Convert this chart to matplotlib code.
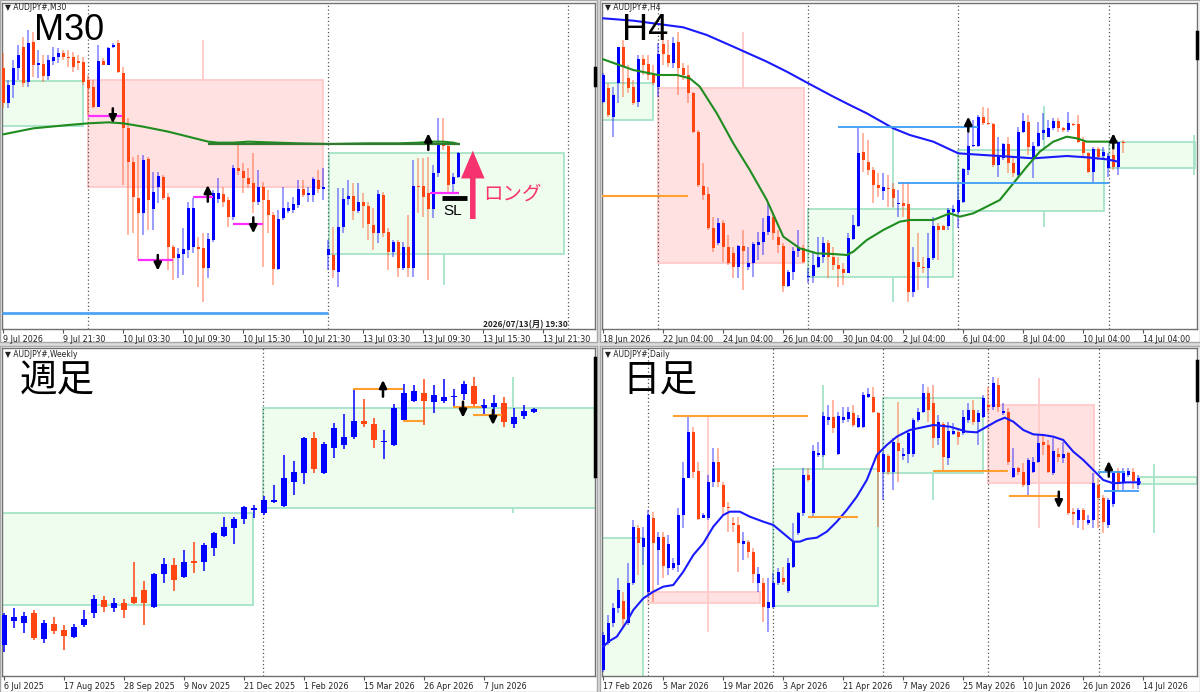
import numpy as np
import matplotlib
matplotlib.use("Agg")
import matplotlib.pyplot as plt
from matplotlib.patches import Rectangle
from matplotlib.colors import to_rgba

W, H = 1200, 692
UP = "#0000ff"
DOWN = "#ff4512"
GREEN_FACE, GREEN_EDGE = "#effdef", "#a6e3c8"
PINK_FACE, PINK_EDGE = "#ffe1e1", "#ffc9c9"
ORANGE_LINE = "#ffa030"
LBLUE = "#3d9df5"
CJK = ["Noto Sans CJK JP", "DejaVu Sans"]

# ---------------- M30 (price in chart units) ----------------
m30_open = [795, 690, 745, 795, 860, 755, 875, 805, 807, 772, 818, 830, 842, 830, 828, 817, 815, 760, 738, 680,
            818, 805, 858, 870, 782, 615, 515, 405, 360, 522, 372, 440, 470, 408, 260, 225, 238, 250, 260, 260,
            255, 195, 280, 402, 418, 400, 350, 495, 488, 465, 452, 395, 440, 400, 355, 192, 345, 368, 370, 385,
            432, 415, 415, 460, 432, 235, 235, 185, 320, 402, 412, 368, 395, 382, 325, 300, 415, 303, 243, 273,
            195, 258, 195, 442, 442, 420, 372, 480, 572, 562, 447, 470]
m30_high = [840, 760, 820, 865, 890, 910, 905, 850, 835, 835, 860, 855, 850, 850, 845, 835, 830, 775, 760, 865,
            825, 860, 870, 880, 800, 645, 530, 535, 535, 530, 485, 485, 475, 420, 265, 255, 315, 395, 405, 290,
            300, 300, 430, 465, 440, 410, 505, 565, 510, 495, 540, 490, 455, 430, 365, 370, 440, 395, 410, 460,
            460, 440, 470, 490, 495, 280, 320, 435, 435, 460, 450, 450, 420, 395, 375, 430, 425, 315, 280, 280,
            275, 355, 520, 525, 525, 530, 505, 645, 645, 570, 480, 545]
m30_low = [675, 675, 705, 760, 740, 740, 770, 765, 755, 760, 805, 812, 820, 800, 785, 790, 745, 655, 675, 680,
           805, 805, 855, 780, 445, 295, 300, 220, 295, 310, 310, 390, 400, 190, 160, 165, 175, 225, 240, 140,
           95, 165, 275, 390, 380, 320, 340, 475, 420, 435, 360, 385, 200, 300, 145, 190, 340, 360, 360, 375,
           410, 395, 395, 420, 400, 190, 165, 140, 300, 385, 340, 360, 315, 280, 250, 270, 290, 190, 230, 170,
           190, 170, 170, 360, 350, 160, 345, 470, 550, 425, 420, 465]
m30_close = [690, 745, 795, 835, 750, 870, 805, 812, 772, 820, 830, 840, 828, 826, 800, 812, 755, 735, 680, 818,
             805, 855, 865, 785, 615, 515, 410, 360, 520, 400, 425, 472, 405, 260, 225, 238, 252, 375, 375, 252,
             195, 282, 420, 420, 395, 350, 497, 488, 465, 448, 395, 440, 400, 355, 192, 342, 375, 375, 388, 432,
             415, 420, 463, 432, 440, 252, 190, 320, 402, 412, 368, 395, 382, 328, 300, 418, 300, 243, 275, 195,
             258, 195, 442, 438, 410, 372, 480, 572, 562, 445, 470, 540]
m30_ma_x = [0, 6, 13, 17, 21, 24, 28, 33, 37, 41, 43, 46, 49, 53, 59, 65, 73, 79, 83, 86, 88, 90, 91]
m30_ma_y = [597, 615, 625, 630, 633, 630, 620, 605, 590, 575, 572, 572, 575, 573, 570, 568, 570, 570, 572, 575, 575,
            572, 568]
m30_labels = ["9 Jul 2026", "9 Jul 21:30", "10 Jul 03:30", "10 Jul 09:30", "10 Jul 15:30", "10 Jul 21:30",
              "13 Jul 03:30", "13 Jul 09:30", "13 Jul 15:30", "13 Jul 21:30"]
m30_zones = [("g", -0.3, 15.9, 622, 757), ("p", 16.9, 63.9, 440, 760), ("g", 65.1, 112.1, 237, 542)]
m30_zone_wicks = [("p", 39.9, 760, 880), ("g", 88.1, 145, 237)]
m30_magenta = [(17, 23.7, 652), (27, 33.9, 220), (38, 42, 408), (46, 52, 328), (85.3, 91.2, 420)]
m30_arrows = [(21.9, 675, 630), (30.9, 235, 188), (40.9, 395, 445), (50, 348, 300), (85, 550, 600)]
m30_seps = [17, 65, 113]

# ---------------- H4 ----------------
h4_open = [695, 735, 650, 750, 858, 765, 738, 695, 822, 807, 775, 738, 867, 835, 810, 875, 795, 775, 720, 605,
           442, 417, 317, 272, 332, 260, 240, 200, 262, 200, 210, 265, 275, 305, 350, 290, 262, 142, 185, 248,
           255, 168, 172, 200, 228, 270, 230, 205, 192, 182, 282, 322, 545, 515, 490, 445, 428, 435, 433, 388,
           392, 388, 125, 215, 200, 195, 225, 322, 323, 322, 365, 365, 395, 490, 562, 562, 648, 632, 628, 505,
           525, 567, 512, 475, 605, 635, 522, 562, 600, 590, 615, 638, 615, 610, 628, 628, 575, 540, 485, 552,
           532, 495, 535, 500, 575]
h4_high = [780, 750, 740, 860, 880, 805, 760, 835, 835, 835, 805, 870, 900, 880, 890, 905, 810, 805, 725, 610,
           510, 440, 350, 345, 340, 295, 260, 265, 310, 260, 275, 305, 345, 390, 365, 310, 270, 190, 260, 310,
           265, 195, 240, 290, 290, 280, 260, 230, 210, 300, 355, 620, 600, 580, 500, 480, 480, 475, 450, 430,
           450, 455, 260, 300, 230, 300, 350, 330, 325, 375, 385, 455, 495, 600, 640, 655, 680, 675, 630, 590,
           570, 590, 530, 620, 660, 655, 575, 635, 660, 640, 645, 645, 620, 665, 632, 655, 590, 545, 560, 560,
           560, 540, 560, 575, 580]
h4_low = [690, 650, 590, 690, 710, 720, 685, 680, 775, 760, 745, 710, 805, 800, 795, 715, 760, 690, 600, 440,
          400, 310, 245, 265, 215, 205, 165, 165, 130, 190, 170, 220, 235, 295, 280, 240, 125, 140, 160, 230,
          210, 150, 150, 195, 210, 165, 190, 140, 145, 180, 280, 320, 485, 475, 390, 410, 400, 380, 380, 350,
          350, 95, 110, 130, 180, 135, 220, 220, 310, 310, 360, 315, 390, 475, 560, 560, 625, 625, 500, 470,
          520, 480, 470, 470, 600, 535, 465, 560, 580, 590, 610, 605, 605, 605, 622, 570, 525, 480, 455, 520,
          520, 470, 490, 475, 540]
h4_close = [775, 655, 715, 860, 800, 735, 690, 822, 805, 775, 750, 837, 837, 810, 870, 795, 775, 720, 605, 445,
            415, 315, 255, 332, 260, 210, 200, 262, 248, 210, 267, 275, 305, 352, 300, 265, 142, 185, 248, 258,
            215, 172, 205, 230, 270, 230, 205, 192, 182, 285, 325, 542, 520, 490, 445, 435, 440, 432, 405, 392,
            383, 125, 215, 200, 195, 225, 322, 310, 310, 370, 372, 400, 492, 562, 565, 648, 630, 627, 505, 530,
            567, 512, 480, 605, 638, 560, 562, 602, 610, 615, 638, 615, 610, 630, 625, 575, 540, 485, 552, 530,
            545, 532, 500, 575, 570]
h4_ma_slow_x = [0, 6, 16, 20.7, 26, 32.7, 36.7, 41, 46, 49.3, 52.7, 58, 61.3, 66, 71, 76, 81.3, 86, 92.7, 96.7,
                100.7, 103]
h4_ma_slow_y = [945, 938, 918, 895, 860, 815, 785, 750, 710, 685, 660, 615, 595, 575, 540, 535, 530, 525, 532, 528,
                522, 515]
h4_ma_fast_x = [0, 6, 11, 14.7, 17.3, 19.3, 22.7, 26, 29.3, 32.7, 36, 39.3, 42.7, 46, 48.7, 50, 52.7, 56, 59.3,
                61.3, 66, 69.3, 71.3, 74, 76, 79.3, 82, 84.7, 87.3, 90, 92.7, 94.7, 96.7, 99.3, 102.7]
h4_ma_fast_y = [822, 790, 775, 775, 765, 740, 660, 570, 490, 400, 290, 255, 240, 238, 235, 245, 280, 310, 335,
                340, 340, 360, 350, 360, 375, 400, 450, 500, 545, 575, 590, 585, 575, 575, 575]
h4_labels = ["18 Jun 2026", "22 Jun 04:00", "24 Jun 04:00", "26 Jun 04:00", "30 Jun 04:00", "2 Jul 04:00",
             "6 Jul 04:00", "8 Jul 04:00", "10 Jul 04:00", "14 Jul 04:00"]
h4_zones = [("g", -0.3, 10, 640, 750), ("p", 10.9, 40.1, 212, 737), ("g", 41, 70, 168, 372),
            ("g", 71, 100.1, 367, 550), ("g", 101.2, 118.3, 495, 573)]
h4_zone_wicks = [("p", 28, 737, 905), ("g", 58, 372, 618), ("g", 58, 95, 168), ("g", 88.1, 550, 682),
                 ("g", 88.1, 320, 367), ("g", 118.1, 475, 595)]
h4_orange = [(-0.3, 17, 412)]
h4_lblue = [(47, 75, 618), (59, 101.2, 452)]
h4_arrows = [(73, 605, 650), (102, 555, 600)]
h4_seps = [10.9, 41, 71, 101.2]

# ---------------- Weekly ----------------
wk_open = [100, 172, 165, 195, 118, 162, 145, 123, 160, 195, 235, 212, 225, 245, 265, 215, 312, 340, 303, 350,
           350, 392, 427, 452, 478, 506, 495, 530, 518, 590, 615, 722, 617, 690, 700, 725, 772, 762, 708, 700,
           775, 832, 857, 830, 832, 843, 852, 877, 810, 815, 827, 763, 787, 800]
wk_high = [195, 210, 200, 205, 175, 185, 160, 162, 205, 250, 248, 240, 238, 350, 292, 315, 360, 360, 385, 410,
           405, 440, 485, 485, 518, 520, 548, 580, 670, 652, 725, 740, 710, 767, 792, 867, 837, 780, 745, 822,
           882, 880, 897, 880, 897, 867, 892, 905, 837, 850, 845, 812, 820, 810]
wk_low = [80, 150, 135, 115, 107, 132, 85, 120, 155, 182, 200, 200, 182, 222, 160, 210, 285, 262, 300, 315,
          322, 368, 425, 402, 463, 480, 490, 525, 515, 550, 582, 615, 612, 660, 688, 717, 755, 690, 658, 698,
          772, 828, 760, 795, 825, 812, 835, 815, 787, 788, 755, 752, 778, 795]
wk_close = [190, 185, 188, 120, 165, 142, 128, 155, 178, 237, 215, 225, 205, 225, 225, 312, 342, 295, 350, 347,
            400, 437, 455, 478, 513, 510, 535, 535, 602, 620, 720, 628, 702, 750, 725, 772, 762, 715, 710, 810,
            855, 863, 832, 850, 845, 845, 882, 822, 820, 827, 768, 785, 803, 807]
wk_labels = ["6 Jul 2025", "17 Aug 2025", "28 Sep 2025", "9 Nov 2025", "21 Dec 2025", "1 Feb 2026",
             "15 Mar 2026", "26 Apr 2026", "7 Jun 2026"]
wk_zones = [("g", -0.3, 24.9, 220, 495), ("g", 25.9, 59.5, 510, 810)]
wk_zone_wicks = [("g", 50.9, 810, 905), ("g", 50.9, 495, 510)]
wk_orange = [(34.9, 39.9, 868), (39.9, 41.9, 772), (44.9, 47.8, 815), (46.9, 49.8, 790)]
wk_arrows = [(37.9, 845, 895), (45.9, 830, 782), (48.9, 805, 760)]
wk_seps = [25.9]

# ---------------- Daily ----------------
d1_open = [25, 105, 165, 212, 232, 165, 285, 450, 395, 258, 480, 385, 425, 330, 332, 340, 490, 602, 740, 622,
           482, 482, 590, 650, 580, 515, 465, 460, 402, 410, 380, 285, 285, 210, 215, 285, 302, 262, 335, 435,
           495, 610, 495, 670, 670, 775, 785, 672, 775, 778, 797, 755, 755, 845, 845, 795, 618, 667, 618, 705,
           668, 672, 672, 775, 800, 855, 825, 722, 762, 660, 732, 738, 735, 775, 805, 768, 785, 820, 815, 880,
           795, 800, 605, 630, 618, 580, 620, 648, 708, 700, 615, 672, 662, 675, 500, 475, 505, 465, 475, 580,
           542, 460, 522, 622, 590, 610, 620, 580]
d1_high = [140, 190, 225, 300, 260, 345, 475, 460, 455, 505, 500, 440, 440, 430, 360, 510, 650, 787, 755, 650,
           495, 610, 690, 690, 590, 530, 485, 485, 440, 415, 390, 335, 300, 300, 315, 330, 335, 360, 465, 500,
           630, 630, 700, 710, 800, 820, 835, 800, 815, 815, 820, 790, 860, 870, 875, 800, 680, 672, 720, 830,
           690, 745, 780, 810, 882, 875, 880, 790, 770, 770, 765, 750, 805, 825, 835, 805, 850, 875, 905, 900,
           825, 810, 690, 635, 645, 660, 665, 732, 730, 715, 720, 690, 710, 680, 510, 510, 510, 490, 615, 600,
           550, 540, 620, 630, 630, 630, 630, 610]
d1_low = [20, 100, 155, 195, 150, 160, 280, 310, 340, 252, 230, 280, 300, 310, 325, 320, 450, 600, 600, 475,
          480, 475, 575, 575, 490, 440, 440, 320, 355, 360, 285, 260, 170, 140, 210, 280, 280, 255, 330, 430,
          488, 590, 485, 665, 665, 760, 735, 670, 765, 770, 755, 750, 750, 840, 795, 455, 535, 610, 565, 590,
          655, 645, 665, 768, 795, 770, 690, 700, 620, 640, 730, 700, 730, 765, 760, 700, 780, 800, 805, 800,
          790, 640, 600, 610, 575, 545, 615, 645, 670, 615, 610, 650, 645, 490, 460, 450, 445, 460, 450, 450,
          435, 450, 515, 565, 565, 605, 568, 568]
d1_close = [130, 165, 212, 265, 178, 285, 455, 405, 420, 490, 405, 425, 338, 402, 345, 490, 602, 740, 620, 478,
            490, 590, 650, 590, 515, 510, 460, 405, 412, 380, 312, 312, 215, 228, 285, 320, 290, 345, 410, 495,
            610, 595, 682, 675, 788, 785, 750, 788, 785, 800, 760, 782, 850, 852, 800, 620, 672, 618, 710, 682,
            672, 735, 775, 800, 855, 805, 720, 768, 665, 742, 742, 725, 785, 805, 768, 795, 840, 815, 885, 815,
            802, 648, 630, 620, 580, 655, 648, 705, 700, 620, 682, 665, 672, 495, 492, 505, 475, 475, 585, 542,
            470, 535, 615, 582, 615, 622, 592, 602]
d1_ma_x = [0, 1, 2.7, 4.7, 6, 8, 10, 12, 14, 16, 18, 20, 22, 24, 25.3, 27.3, 29.3, 32, 34, 36, 38, 39.3, 40.7,
           42.7, 44.7, 46.7, 48.7, 50.7, 52.7, 54.7, 56.7, 58.7, 61.3, 66, 69.3, 72.7, 74.7, 76.7, 78.7, 80.3, 82,
           84, 86, 88, 90, 92, 94, 96, 98, 100, 102, 104.7, 107.3]
d1_ma_y = [95, 110, 125, 170, 205, 240, 260, 275, 280, 320, 370, 405, 455, 490, 500, 500, 485, 470, 460, 435, 410,
           410, 418, 422, 440, 470, 505, 545, 595, 670, 700, 725, 745, 760, 755, 740, 738, 755, 772, 782, 770, 745,
           732, 730, 725, 715, 680, 655, 625, 595, 585, 588, 588]
d1_labels = ["17 Feb 2026", "5 Mar 2026", "19 Mar 2026", "3 Apr 2026", "21 Apr 2026", "7 May 2026",
             "25 May 2026", "10 Jun 2026", "26 Jun 2026", "14 Jul 2026"]
d1_zones = [("g", -0.3, 8, -20, 420), ("p", 9, 31.3, 225, 260), ("g", 34, 55, 217, 627),
            ("g", 56, 76, 617, 840), ("p", 77, 98.2, 585, 820), ("g", 107.2, 118.8, 582, 605)]
d1_zone_wicks = [("p", 20.9, 140, 785), ("g", 43.9, 627, 880), ("g", 66, 535, 617), ("p", 87.1, 450, 902),
                 ("g", 110.2, 435, 642)]
d1_orange = [(14, 41, 787), (41, 51, 485), (66, 81, 622), (81.2, 91, 548)]
d1_lblue = [(99, 104.3, 620), (100.1, 107.2, 562)]
d1_arrows = [(91.1, 560, 510), (101.1, 605, 652)]
d1_seps = [9, 34, 56, 77, 99.2]


fig = plt.figure(figsize=(W / 100, H / 100), dpi=100)
fig.patch.set_facecolor("#dcdcdc")


def px_rect(x0, y0, x1, y1):
    return [x0 / W, 1 - y1 / H, (x1 - x0) / W, (y1 - y0) / H]


# white panel backgrounds (behind the axes)
for x0, y0, x1, y1 in [(0, 0, 597, 342), (600, 0, 1200, 342), (0, 346, 597, 692), (600, 346, 1200, 692)]:
    fig.patches.append(Rectangle((x0 / W, 1 - y1 / H), (x1 - x0) / W, (y1 - y0) / H, transform=fig.transFigure,
                                 facecolor="white", edgecolor="#a8a8a8", lw=1, zorder=-5))


def make_axes(box, xlim, ylim, tick_pos, labels):
    ax = fig.add_axes(px_rect(*box))
    ax.set_zorder(1)
    ax.set_xlim(*xlim)
    ax.set_ylim(*ylim)
    ax.set_yticks([])
    ax.set_xticks(tick_pos)
    ax.set_xticklabels(labels, ha="left", fontsize=5.8, color="#222222")
    ax.tick_params(axis="x", length=3, pad=1.5, color="#555555", width=0.8)
    for s in ax.spines.values():
        s.set_color("#707070")
        s.set_linewidth(1)
    return ax


def candles(ax, o, h, l, c, width, wick_alpha):
    o, h, l, c = map(np.asarray, (o, h, l, c))
    x = np.arange(len(o))
    up = c >= o
    body = [UP if u else DOWN for u in up]
    wick = [to_rgba(UP if u else DOWN, wick_alpha) for u in up]
    ax.vlines(x, l, h, colors=wick, lw=1.1, zorder=3)
    ax.bar(x, np.maximum(np.abs(c - o), 4), width, np.minimum(o, c), color=body, lw=0, zorder=4)


def zones(ax, zone_list, wick_list):
    for kind, x0, x1, lo, hi in zone_list:
        fc, ec = (GREEN_FACE, GREEN_EDGE) if kind == "g" else (PINK_FACE, PINK_EDGE)
        ax.add_patch(Rectangle((x0, lo), x1 - x0, hi - lo, facecolor=fc, edgecolor=ec, lw=1.3, zorder=1))
    for kind, x, lo, hi in wick_list:
        ax.vlines(x, lo, hi, colors=GREEN_EDGE if kind == "g" else PINK_EDGE, lw=1.3, zorder=1)


def hlines(ax, items, color, lw):
    for x0, x1, y in items:
        ax.hlines(y, x0, x1, colors=color, lw=lw, zorder=5)


def arrows(ax, items):
    for x, tail, head in items:
        ax.annotate("", xy=(x, head), xytext=(x, tail), zorder=7,
                    arrowprops=dict(arrowstyle="-|>,head_length=0.45,head_width=0.22", color="black", lw=1.8,
                                    shrinkA=0, shrinkB=0))


def seps(ax, xs):
    for x in xs:
        ax.axvline(x, color="#555555", lw=0.9, ls=(0, (1, 2)), zorder=2)


def side_mark(ax, y0, y1):
    ax.plot([1.0, 1.0], [y0, y1], transform=ax.transAxes, color="black", lw=2.5, clip_on=False, zorder=8)


# ---- M30 panel
ax1 = make_axes((2, 3, 595, 329), (-0.26, 118.34), (13, 991), range(0, 120, 12), m30_labels)
zones(ax1, m30_zones, m30_zone_wicks)
seps(ax1, m30_seps)
candles(ax1, m30_open, m30_high, m30_low, m30_close, 0.6, 0.5)
ax1.plot(m30_ma_x, m30_ma_y, color="#1e8c1e", lw=1.5, zorder=5)
ax1.hlines(567, 41, 91.3, colors="#2f7a2f", lw=1.6, zorder=5)
ax1.hlines(62, -0.3, 65, colors="#4da3f5", lw=2, zorder=5)
hlines(ax1, m30_magenta, "#ff2dff", 1.6)
arrows(ax1, m30_arrows)
ax1.hlines(405, 87.7, 92.7, colors="black", lw=3.5, zorder=7)
ax1.text(89.9, 367, "SL", ha="center", va="center", fontsize=11, family="Liberation Sans", zorder=8)
ax1.annotate("", xy=(93.9, 548), xytext=(93.9, 343), zorder=8,
             arrowprops=dict(arrowstyle="simple,head_length=1.0,head_width=0.85,tail_width=0.2",
                             mutation_scale=20, color="#f7336f", lw=0, shrinkA=0, shrinkB=0))
side_mark(ax1, 0.75, 0.8)

# ---- H4 panel
ax2 = make_axes((602, 3, 1197, 329), (-0.26, 118.74), (13, 991), range(0, 120, 12), h4_labels)
zones(ax2, h4_zones, h4_zone_wicks)
seps(ax2, h4_seps)
candles(ax2, h4_open, h4_high, h4_low, h4_close, 0.6, 0.5)
ax2.plot(h4_ma_slow_x, h4_ma_slow_y, color="#1a1aff", lw=1.5, zorder=5)
ax2.plot(h4_ma_fast_x, h4_ma_fast_y, color="#1e8c1e", lw=1.5, zorder=5)
hlines(ax2, h4_orange, ORANGE_LINE, 1.5)
hlines(ax2, h4_lblue, LBLUE, 1.3)
arrows(ax2, h4_arrows)
side_mark(ax2, 0.83, 0.91)

# ---- Weekly panel
ax3 = make_axes((2, 348, 595, 676), (-0.2, 59.1), (7, 991), range(0, 54, 6), wk_labels)
zones(ax3, wk_zones, wk_zone_wicks)
seps(ax3, wk_seps)
candles(ax3, wk_open, wk_high, wk_low, wk_close, 0.62, 1.0)
hlines(ax3, wk_orange, ORANGE_LINE, 1.5)
arrows(ax3, wk_arrows)
side_mark(ax3, 0.61, 0.97)

# ---- Daily panel
ax4 = make_axes((602, 348, 1197, 676), (-0.26, 118.74), (7, 991), range(0, 120, 12), d1_labels)
zones(ax4, d1_zones, d1_zone_wicks)
seps(ax4, d1_seps)
candles(ax4, d1_open, d1_high, d1_low, d1_close, 0.6, 0.5)
ax4.plot(d1_ma_x, d1_ma_y, color="#1a1aff", lw=1.5, zorder=5)
hlines(ax4, d1_orange, ORANGE_LINE, 1.5)
hlines(ax4, d1_lblue, LBLUE, 1.3)
arrows(ax4, d1_arrows)
side_mark(ax4, 0.84, 0.96)


def ftext(x, y, s, **kw):
    fig.text(x / W, 1 - y / H, s, **kw)


for x, y, s in [(5, 8, "\u25bc AUDJPY#,M30"), (605, 8, "\u25bc AUDJPY#,H4"),
                (5, 355, "\u25bc AUDJPY#,Weekly"), (605, 355, "\u25bc AUDJPY#,Daily")]:
    ftext(x, y, s, fontsize=5.5, va="center", color="#222222", zorder=10)

ftext(34, 31, "M30", fontsize=26, family="Liberation Sans", va="center", zorder=10)
ftext(622, 31, "H4", fontsize=26, family="Liberation Sans", va="center", zorder=10)
ftext(20, 381, "週足", fontsize=27, family=CJK, va="center", zorder=10)
ftext(622, 381, "日足", fontsize=27, family=CJK, va="center", zorder=10)
ftext(483, 194, "ロング", fontsize=14, family=CJK, va="center", color="#f7336f", zorder=10)
ftext(483, 325, "2026/07/13(月) 19:30", fontsize=6, family=CJK, weight="bold", va="center", color="#222222",
      zorder=10)

fig.savefig("out.png", dpi=100, facecolor=fig.get_facecolor())
